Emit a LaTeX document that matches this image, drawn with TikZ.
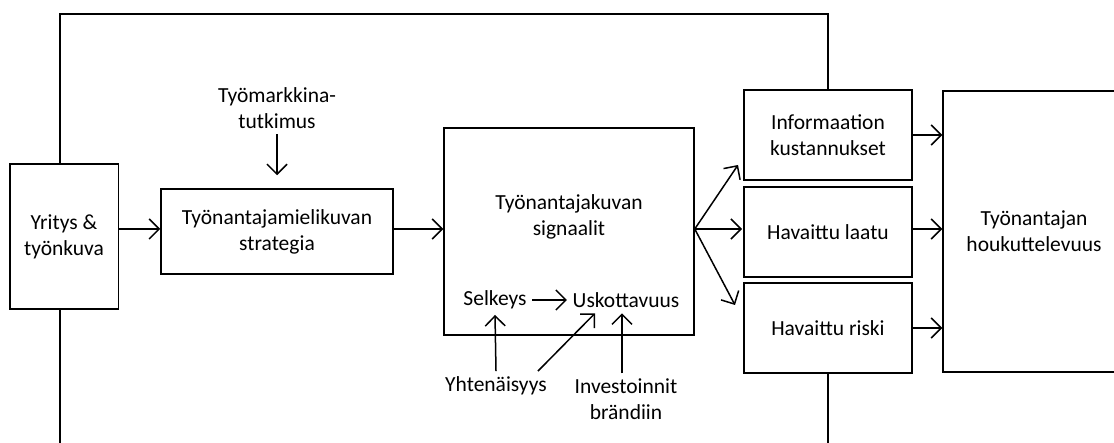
\documentclass[tikz,border=0pt]{standalone}
\usepackage{fontspec}
\setmainfont{Carlito}
\usetikzlibrary{arrows.meta,calc}
\begin{document}
\begin{tikzpicture}[x=1pt,y=-1pt,
  font=\fontsize{21.5}{26}\selectfont,
  line width=1.5pt,
  box/.style={draw,rectangle,align=center,inner sep=0pt},
  lbl/.style={align=center,inner sep=5pt},
  arr/.style={-{Straight Barb[length=10pt,width=20pt,line width=1.5pt]}},
]
\useasboundingbox (0,0) rectangle (1114,443);
\clip (0,0) rectangle (1114,443);
% boxes
\node[box,minimum width=108.5pt,minimum height=145pt] (yr) at (64,236.5) {Yritys \&\\työnkuva};
\node[box,minimum width=232pt,minimum height=85pt] (strat) at (277,231.5) {Työnantajamielikuvan\\strategia};
\node[box,minimum width=250pt,minimum height=207pt] (sig) at (569,231.5) {};
\node[box,minimum width=168pt,minimum height=90pt] (info) at (828,135) {Informaation\\kustannukset};
\node[box,minimum width=168pt,minimum height=90pt] (laatu) at (828,232) {Havaittu laatu};
\node[box,minimum width=168pt,minimum height=90pt] (riski) at (828,328) {Havaittu riski};
\node[box,minimum width=182pt,minimum height=281pt] (hou) at (1034,231.5) {Työnantajan\\houkuttelevuus};
% labels
\node[lbl] (tm) at (277,108) {Työmarkkina-\\tutkimus};
\node[lbl] (sigt) at (569,217) {Työnantajakuvan\\signaalit};
\node[lbl] (sel) at (495,300) {Selkeys};
\node[lbl] (usk) at (626,300) {Uskottavuus};
\node[lbl] (yht) at (496,386) {Yhtenäisyys};
\node[lbl] (inv) at (626,399.5) {Investoinnit\\brändiin};
% outer loop
\coordinate (c1) at (60,14);
\coordinate (c2) at (828,14);
\coordinate (b1) at (60,450);
\coordinate (b2) at (828,450);
\draw (yr.north -| c1) -- (c1) -- (c2) -- (info.north);
\draw (yr.south -| c1) -- (b1);
\draw (riski.south) -- (b2);
% main arrows
\draw[arr] ([yshift=2.5pt]strat.west -| yr.east) -- ([yshift=2.5pt]strat.west);
\draw[arr] ([yshift=2.5pt]strat.east) -- ([yshift=2.5pt]sig.west);
\draw[arr,shorten >=13pt] (tm.south) -- (strat.north);
\coordinate (fan) at ([yshift=2.5pt]sig.east);
\draw[arr] (fan) -- (738,165) coordinate (f1);
\draw[arr] (fan) -- (742,229) coordinate (f2);
\draw[arr] (fan) -- (735,305) coordinate (f3);
\draw[arr] (info.east) -- (info.east -| hou.west);
\draw[arr] ([yshift=3pt]laatu.east) -- ([yshift=3pt]laatu.east -| hou.west);
\draw[arr] (riski.east) -- (riski.east -| hou.west);
% inner arrows
\draw[arr] (sel.east) -- (usk.west);
\draw[arr] (yht.north) -- (sel.south);
\draw[arr] ([xshift=42pt]yht.north) -- ([xshift=-31pt]usk.south);
\draw[arr] ([xshift=-4pt]inv.north) -- ([xshift=-4pt]usk.south);
\end{tikzpicture}
\end{document}
